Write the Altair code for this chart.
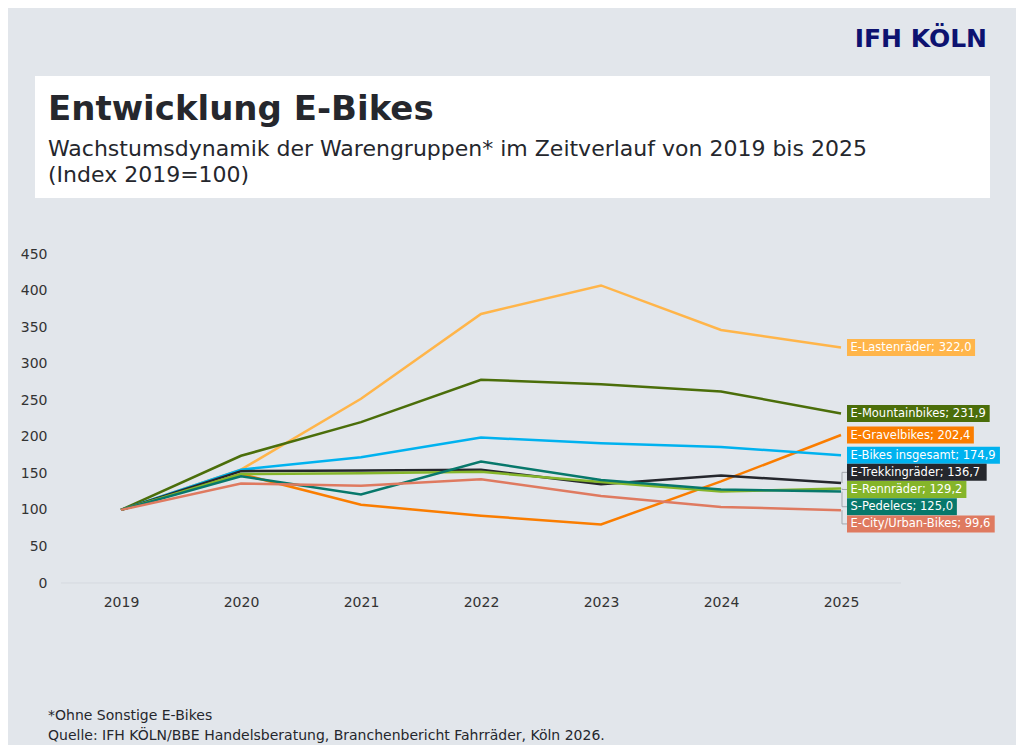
import altair as alt
import pandas as pd

# data
years = [2019, 2020, 2021, 2022, 2023, 2024, 2025]
series_names = ["E-Lastenräder", "E-Mountainbikes", "E-Gravelbikes", "E-Bikes insgesamt",
                "E-Trekkingräder", "E-Rennräder", "S-Pedelecs", "E-City/Urban-Bikes"]
lasten = [100, 155, 252, 368, 407, 346, 322.0]
mountain = [100, 174, 220, 278, 272, 262, 231.9]
gravel = [100, 149, 107, 92, 80, 139, 202.4]
insgesamt = [100, 155, 172, 199, 191, 186, 174.9]
trekking = [100, 153, 154, 155, 135, 147, 136.7]
renn = [100, 149, 150, 152, 138, 125, 129.2]
pedelecs = [100, 146, 121, 166, 141, 128, 125.0]
city = [100, 136, 133, 142, 119, 104, 99.6]
series_colors = ["#ffb54a", "#4b6e0a", "#fa7d00", "#00b2ef",
                 "#25272d", "#85b52a", "#07786b", "#df7a60"]
y_ticks = [0, 50, 100, 150, 200, 250, 300, 350, 400, 450]

title = "Entwicklung E-Bikes"
subtitle_1 = "Wachstumsdynamik der Warengruppen* im Zeitverlauf von 2019 bis 2025"
subtitle_2 = "(Index 2019=100)"
note = "*Ohne Sonstige E-Bikes"
source = "Quelle: IFH KÖLN/BBE Handelsberatung, Branchenbericht Fahrräder, Köln 2026."
logo = "IFH KÖLN"

W, H = 840, 329
X_DOMAIN = [2018.5, 2025.5]
Y_DOMAIN = [0, 450]
PX_YEAR = W / (X_DOMAIN[1] - X_DOMAIN[0])
PX_UNIT = H / (Y_DOMAIN[1] - Y_DOMAIN[0])
FONT = "DejaVu Sans"
LABEL_SIZE = 11.5
BG = "#e2e6eb"

all_values = [lasten, mountain, gravel, insgesamt, trekking, renn, pedelecs, city]
rows = []
for name, vals in zip(series_names, all_values):
    for yr, v in zip(years, vals):
        rows.append({"serie": name, "jahr": yr, "index": v})
df = pd.DataFrame(rows)

# rough DejaVu Sans glyph widths (em) to size the label boxes
glyph_w = {"E": .632, "L": .557, "M": .863, "G": .775, "B": .686, "T": .611, "R": .695,
           "S": .635, "P": .603, "C": .698, "U": .732, "a": .613, "b": .635, "c": .55,
           "d": .635, "e": .615, "g": .635, "h": .634, "i": .278, "k": .579, "l": .278,
           "m": .974, "n": .634, "o": .612, "p": .635, "r": .411, "s": .521, "t": .392,
           "u": .634, "v": .592, "y": .592, "ä": .613, "-": .361, ";": .337, ",": .318,
           " ": .318, "/": .337}


def text_width(s):
    return sum(glyph_w.get(c, .636) for c in s) * LABEL_SIZE


# end labels, spread so they do not overlap
gap = 17.2 / PX_UNIT
ends = sorted(((vals[-1], name, col) for name, vals, col in
               zip(series_names, all_values, series_colors)), reverse=True)
clusters = []
for v, name, col in ends:
    if clusters and clusters[-1][-1][0] - v < gap:
        clusters[-1].append((v, name, col))
    else:
        clusters.append([(v, name, col)])
positions = []
for cl in clusters:
    mid = sum(c[0] for c in cl) / len(cl)
    for k, c in enumerate(cl):
        positions.append(mid + gap * ((len(cl) - 1) / 2 - k))
for k in range(1, len(positions)):
    positions[k] = min(positions[k], positions[k - 1] - gap)

lab_rows = []
for (v, name, col), pos in zip(ends, positions):
    txt = f"{name}; {v:.1f}".replace(".", ",")
    x0 = years[-1] + 6 / PX_YEAR
    lab_rows.append({
        "serie": name, "text": txt, "value": v, "pos": pos,
        "jahr": years[-1], "x0": x0,
        "x1": x0 + (text_width(txt) + 7) / PX_YEAR,
        "y0": pos - 8.5 / PX_UNIT, "y1": pos + 8.5 / PX_UNIT,
        "moved": abs(pos - v) > 0.5,
    })
labels = pd.DataFrame(lab_rows)
moved = labels[labels["moved"]]

x_scale = alt.Scale(domain=X_DOMAIN, nice=False, zero=False)
y_scale = alt.Scale(domain=Y_DOMAIN, nice=False)
color_scale = alt.Scale(domain=series_names, range=series_colors)

x_axis = alt.Axis(values=years, format="d", grid=False, domain=False, ticks=False,
                  labelPadding=12, labelFontSize=14, labelColor="#333333", labelFont=FONT)
y_axis = alt.Axis(values=y_ticks, grid=False, domain=False, ticks=False, labelOverlap=False,
                  labelPadding=14, labelFontSize=14, labelColor="#333333", labelFont=FONT)

base = alt.Chart(df)

lines = base.mark_line(strokeWidth=2.5).encode(
    x=alt.X("jahr:Q", scale=x_scale, title=None, axis=x_axis),
    y=alt.Y("index:Q", scale=y_scale, title=None, axis=y_axis),
    color=alt.Color("serie:N", scale=color_scale, legend=None),
)

zero_line = alt.Chart(pd.DataFrame({"y": [0]})).mark_rule(
    color="#d5d9df", strokeWidth=1
).encode(y=alt.Y("y:Q", scale=y_scale, title=None, axis=y_axis))

conn_v = alt.Chart(moved).mark_rule(color="#a3a7ad", strokeWidth=1, xOffset=1, x2Offset=1).encode(
    x=alt.X("jahr:Q", scale=x_scale, title=None, axis=x_axis),
    y=alt.Y("value:Q", scale=y_scale, title=None, axis=y_axis), y2="pos:Q"
)
conn_h = alt.Chart(moved).mark_rule(color="#a3a7ad", strokeWidth=1, xOffset=1).encode(
    x=alt.X("jahr:Q", scale=x_scale, title=None, axis=x_axis), x2="x0:Q",
    y=alt.Y("pos:Q", scale=y_scale, title=None, axis=y_axis)
)

boxes = alt.Chart(labels).mark_rect().encode(
    x=alt.X("x0:Q", scale=x_scale, title=None, axis=x_axis), x2="x1:Q",
    y=alt.Y("y0:Q", scale=y_scale, title=None, axis=y_axis), y2="y1:Q",
    color=alt.Color("serie:N", scale=color_scale, legend=None),
)
box_text = alt.Chart(labels).mark_text(
    align="left", baseline="middle", dx=3.5, dy=0.5, font=FONT, fontSize=LABEL_SIZE, color="white"
).encode(
    x=alt.X("x0:Q", scale=x_scale, title=None, axis=x_axis),
    y=alt.Y("pos:Q", scale=y_scale, title=None, axis=y_axis), text="text:N"
)

one = pd.DataFrame({"k": [0]})
header_box = alt.Chart(one).mark_rect(color="white").encode(
    x=alt.value(-26), x2=alt.value(929), y=alt.value(-178), y2=alt.value(-56)
)


def static_text(s, x, y, size, weight="normal", color="#25272d", align="left"):
    return alt.Chart(one).mark_text(
        text=s, align=align, baseline="alphabetic", font=FONT, fontSize=size,
        fontWeight=weight, color=color
    ).encode(x=alt.value(x), y=alt.value(y))


texts = [
    static_text(title, -13, -134, 34, "bold"),
    static_text(subtitle_1, -13, -98, 22),
    static_text(subtitle_2, -13, -72, 22),
    static_text(logo, 926, -207, 25, "bold", "#0d1270", "right"),
    static_text(note, -13, 466, 14),
    static_text(source, -13, 486, 14),
]

chart = alt.layer(lines, zero_line, conn_v, conn_h, boxes, box_text, header_box, *texts).properties(
    width=W, height=H,
    autosize=alt.AutoSizeParams(type="none"),
    padding={"left": 53, "top": 246, "right": 115, "bottom": 162},
    background=BG,
).configure_view(stroke=None)

chart.save("out.html", embed_options={"renderer": "svg", "actions": False})
